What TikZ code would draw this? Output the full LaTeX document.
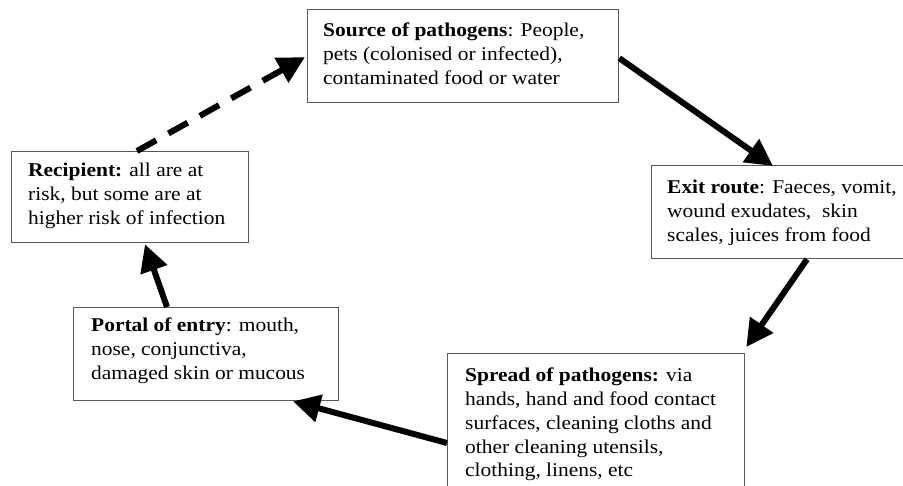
\documentclass[tikz,border=0pt]{standalone}
\usepackage{fontspec}
\setmainfont[FakeStretch=1.1]{Liberation Serif}
\usetikzlibrary{arrows.meta}
\definecolor{boxgray}{HTML}{5A5A5A}
\begin{document}
\begin{tikzpicture}[x=1pt,y=-1pt]
\tikzset{
 boxnode/.style={draw=boxgray, line width=1.3pt, fill=white, inner sep=0pt, anchor=north west},
 txt/.style={anchor=north west, inner sep=0pt, align=left, font=\fontsize{19.5pt}{23.7pt}\selectfont},
 flow/.style={line width=6pt, -{Triangle[length=27pt,width=27pt]}},
 dashflow/.style={flow, dash pattern=on 22pt off 14pt},
}
\useasboundingbox[fill=white] (0,0) rectangle (903,486);

\node[boxnode, minimum width=311pt, minimum height=93pt] (srcbox) at (307,9) {};
\node[boxnode, minimum width=252pt, minimum height=93pt] (exitbox) at (651,165) {};
\node[boxnode, minimum width=297pt, minimum height=150pt] (spreadbox) at (447,353) {};
\node[boxnode, minimum width=265pt, minimum height=93pt] (portalbox) at (73,307) {};
\node[boxnode, minimum width=237pt, minimum height=91pt] (recipbox) at (11,151) {};

\node[txt] (srctxt) at ([shift={(16,14)}]srcbox.north west)
 {\textbf{Source of pathogens}: People,\\pets (colonised or infected),\\contaminated food or water};
\node[txt] (exittxt) at ([shift={(16,15)}]exitbox.north west)
 {\textbf{Exit route}: Faeces, vomit,\\wound exudates,\ \ skin\\scales, juices from food};
\node[txt] (spreadtxt) at ([shift={(18,15)}]spreadbox.north west)
 {\textbf{Spread of pathogens:} via\\hands, hand and food contact\\surfaces, cleaning cloths and\\other cleaning utensils,\\clothing, linens, etc};
\node[txt] (portaltxt) at ([shift={(18,11)}]portalbox.north west)
 {\textbf{Portal of entry}: mouth,\\nose, conjunctiva,\\damaged skin or mucous};
\node[txt] (reciptxt) at ([shift={(17,12)}]recipbox.north west)
 {\textbf{Recipient:} all are at\\risk, but some are at\\higher risk of infection};

\draw[flow] ([shift={(0,2)}]srcbox.east) -- ([shift={(122,1)}]exitbox.north west);
\draw[flow] ([shift={(156,0)}]exitbox.south west) -- ([shift={(1,-6)}]spreadbox.north east);
\draw[flow] ([shift={(0,90)}]spreadbox.north west) -- ([shift={(220,0)}]portalbox.south west);
\draw[flow] ([shift={(94,0)}]portalbox.north west) -- ([shift={(134,1)}]recipbox.south west);
\draw[dashflow] ([shift={(126,0)}]recipbox.north west) -- ([shift={(-2,1)}]srcbox.west);
\end{tikzpicture}
\end{document}
